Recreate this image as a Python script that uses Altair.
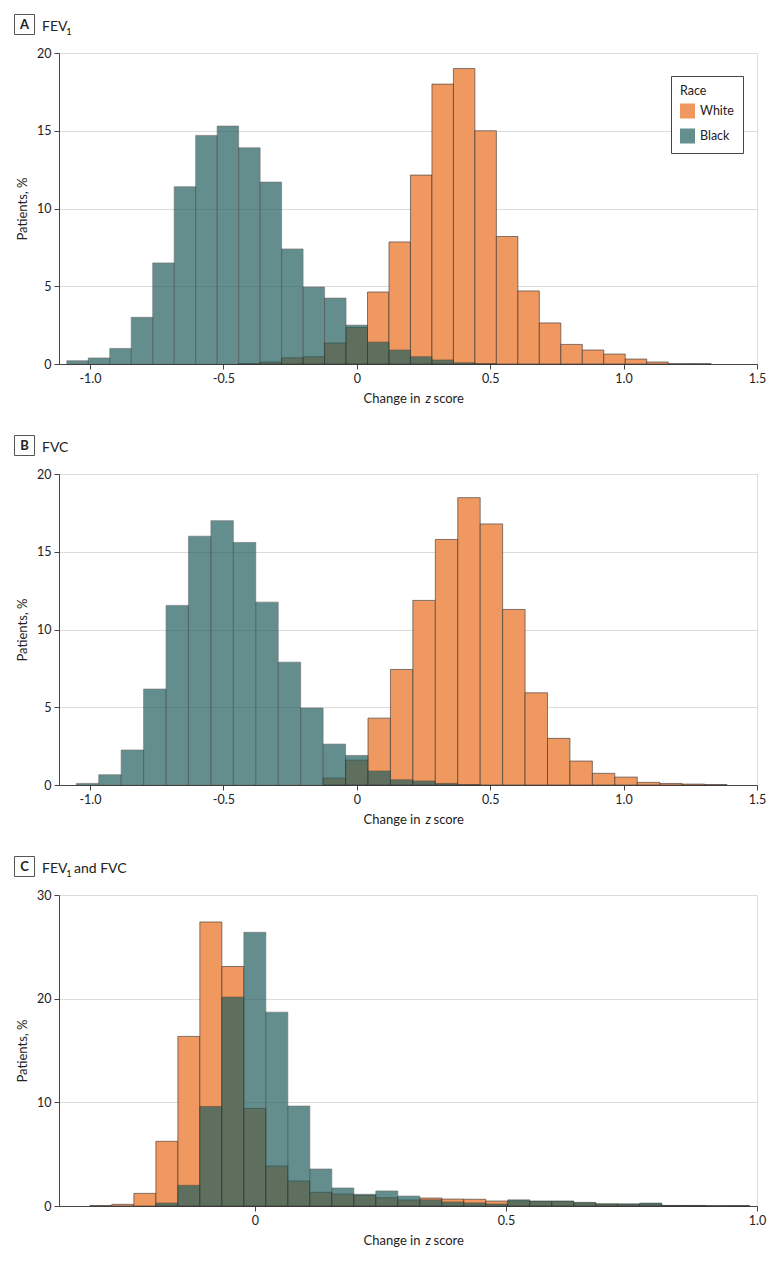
import altair as alt
import pandas as pd

FONT = "Lato"
ORANGE = "#EF9860"
TEAL = "#235E5E"
TXT = "#222222"

# ---------------- data (bin index k, bin centre = k * bin width) ----------------
A_BW = 0.0805
A_white_k = list(range(-5, 17))
A_white_pct = [0.02, 0.13, 0.40, 0.47, 1.35, 2.35, 4.63, 7.85, 12.15, 18.0, 19.0,
               15.0, 8.2, 4.7, 2.64, 1.26, 0.9, 0.64, 0.32, 0.13, 0.02, 0.02]
A_black_k = list(range(-13, 7))
A_black_pct = [0.21, 0.39, 1.0, 3.0, 6.5, 11.4, 14.7, 15.3, 13.9, 11.7, 7.4,
               4.95, 4.24, 2.5, 1.41, 0.9, 0.47, 0.26, 0.08, 0.02]

B_BW = 0.0841
B_white_k = list(range(-1, 17))
B_white_pct = [0.45, 1.6, 4.3, 7.43, 11.87, 15.79, 18.48, 16.79, 11.29, 5.93, 3.0,
               1.54, 0.75, 0.51, 0.17, 0.1, 0.06, 0.03]
B_black_k = list(range(-12, 6))
B_black_pct = [0.1, 0.66, 2.25, 6.17, 11.55, 16.0, 17.0, 15.6, 11.76, 7.9, 4.95,
               2.63, 1.9, 0.9, 0.34, 0.26, 0.1, 0.03]

C_BW = 0.0438
C_white_k = list(range(-7, 23))
C_white_pct = [0.05, 0.16, 1.22, 6.24, 16.36, 27.4, 23.1, 9.42, 3.86, 2.41, 1.32,
               1.16, 1.03, 0.8, 0.58, 0.77, 0.67, 0.65, 0.48, 0.5, 0.45, 0.45,
               0.3, 0.2, 0.18, 0.2, 0.05, 0.05, 0.02, 0.02]
C_black_k = list(range(-4, 23))
C_black_pct = [0.29, 2.0, 9.6, 20.15, 26.4, 18.7, 9.64, 3.57, 1.74, 1.13, 1.45,
               0.96, 0.6, 0.39, 0.3, 0.2, 0.6, 0.48, 0.48, 0.35, 0.2, 0.2, 0.29,
               0.05, 0.05, 0.0, 0.02]

RACES = ["White", "Black"]
AB_X_TICKS = [-1.0, -0.5, 0.0, 0.5, 1.0, 1.5]
AB_Y_TICKS = [0, 5, 10, 15, 20]
C_X_TICKS = [0.0, 0.5, 1.0]
C_Y_TICKS = [0, 10, 20, 30]

W, H = 698, 311


def frame(wk, wp, bk, bp):
    rows = [{"race": "White", "ord": 0, "k": k, "pct": p} for k, p in zip(wk, wp)]
    rows += [{"race": "Black", "ord": 1, "k": k, "pct": p} for k, p in zip(bk, bp)]
    return pd.DataFrame(rows)


one = pd.DataFrame({"o": [0]})


def txt(s, x, y, size=13, weight="normal", style="normal", align="left", baseline="alphabetic"):
    return alt.Chart(one).mark_text(
        text=s, font=FONT, fontSize=size, fontWeight=weight, fontStyle=style,
        align=align, baseline=baseline, color=TXT
    ).encode(x=alt.value(x), y=alt.value(y))


def panel(df, bw, xdom, xticks, ydom, yticks, letter, title_parts, show_legend):
    if show_legend:
        leg = alt.Legend(
            title="Race", orient="none", legendX=612, legendY=23, direction="vertical",
            strokeColor="#444", fillColor="white", padding=9,
            titleFont=FONT, labelFont=FONT, titleFontSize=12.5, labelFontSize=12.5,
            titleFontWeight="normal", titleColor=TXT, labelColor=TXT,
            symbolType="square", symbolSize=225, symbolStrokeWidth=0,
            rowPadding=10, titlePadding=6, labelOffset=5,
        )
    else:
        leg = None
    enc_leg = {"legend": leg}
    bars = alt.Chart(df).transform_calculate(
        x0=f"datum.k * {bw} - {bw / 2}",
        x1=f"datum.k * {bw} + {bw / 2}",
    ).mark_bar(stroke="#333333", strokeWidth=0.8, strokeOpacity=0.75).encode(
        x=alt.X("x0:Q", scale=alt.Scale(domain=xdom, nice=False, zero=False),
                axis=alt.Axis(values=xticks, title=None, grid=False,
                              labelExpr="datum.value == 0 ? '0' : (datum.value < 0 ? '-' : '') + format(abs(datum.value), '.1f')",
                              labelFont=FONT, labelFontSize=12.5, labelColor=TXT,
                              domainColor="#444", tickColor="#444", tickSize=5,
                              labelPadding=3, labelFlush=False)),
        x2="x1:Q",
        y=alt.Y("pct:Q", stack=None, scale=alt.Scale(domain=ydom, nice=False),
                axis=alt.Axis(values=yticks, title="Patients, %", grid=True,
                              gridColor="#dcdcdc", gridWidth=1,
                              labelFont=FONT, labelFontSize=12.5, labelColor=TXT,
                              titleFont=FONT, titleFontSize=13, titleFontWeight="normal",
                              titleColor=TXT, titleX=-37, titleY=H / 2, titleAngle=-90,
                              titleAlign="center", titleBaseline="middle",
                              domainColor="#444", tickColor="#444", tickSize=5,
                              labelPadding=3)),
        y2=alt.datum(0),
        color=alt.Color("race:N", scale=alt.Scale(domain=RACES, range=[ORANGE, TEAL]), **enc_leg),
        opacity=alt.Opacity("race:N", scale=alt.Scale(domain=RACES, range=[1.0, 0.7]), **enc_leg),
        order=alt.Order("ord:Q"),
    )

    box = alt.Chart(one).mark_rect(fillOpacity=0, stroke="#555", strokeWidth=1).encode(
        x=alt.value(-44.5), x2=alt.value(-24.5), y=alt.value(-38.5), y2=alt.value(-18.5))
    layers = [bars, box, txt(letter, -34.5, -28, size=13, weight="bold", align="center", baseline="middle")]
    for s, x, y, size in title_parts:
        layers.append(txt(s, x, y, size=size))
    # x axis title with italic z
    layers.append(txt("Change in", 361.5, H + 39, size=13, align="right"))
    layers.append(txt("z", 366.5, H + 39, size=13, style="italic"))
    layers.append(txt("score", 374.5, H + 39, size=13))
    return alt.layer(*layers).properties(width=W, height=H).resolve_scale(
        color="independent", opacity="independent")


dfA = frame(A_white_k, A_white_pct, A_black_k, A_black_pct)
dfB = frame(B_white_k, B_white_pct, B_black_k, B_black_pct)
dfC = frame(C_white_k, C_white_pct, C_black_k, C_black_pct)

pA = panel(dfA, A_BW, [-1.116, 1.5], AB_X_TICKS, [0, 20], AB_Y_TICKS, "A",
           [("FEV", -17, -22, 14), ("1", 7, -18, 10)], True)
pB = panel(dfB, B_BW, [-1.116, 1.5], AB_X_TICKS, [0, 20], AB_Y_TICKS, "B",
           [("FVC", -17, -22, 14)], False)
pC = panel(dfC, C_BW, [-0.39, 1.0], C_X_TICKS, [0, 30], C_Y_TICKS, "C",
           [("FEV", -17, -22, 14), ("1", 7, -18, 10), ("and FVC", 15, -22, 14)], False)

chart = alt.vconcat(pA, pB, pC, spacing=27).resolve_scale(
    color="independent", opacity="independent"
).configure_view(strokeWidth=0).configure(background="white")

chart.save("out.html", embed_options={"renderer": "svg", "actions": False})
